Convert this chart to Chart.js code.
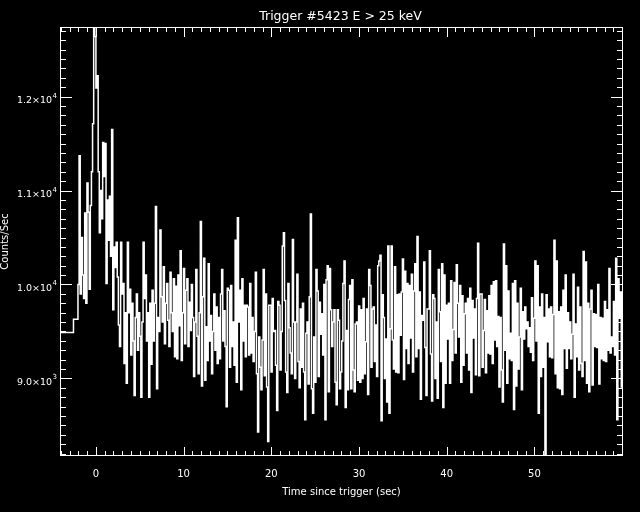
<!DOCTYPE html>
<html>
<head>
<meta charset="utf-8">
<title>Trigger #5423 E &gt; 25 keV</title>
<script src="https://cdn.jsdelivr.net/npm/chart.js@4.4.1/dist/chart.umd.min.js"></script>
<style>
  html, body { margin: 0; padding: 0; background: #000; }
  canvas { display: block; }
</style>
</head>
<body>
<canvas id="lightCurve" width="640" height="512"></canvas>
<script>
const titleText = 'Trigger #5423 E > 25 keV';
const xTitle = 'Time since trigger (sec)';
const yTitle = 'Counts/Sec';

const xMajorTicks = [0, 10, 20, 30, 40, 50];
const yMajorTicks = [9000, 10000, 11000, 12000];
const yTickMantissa = ['9.0', '1.0', '1.1', '1.2'];
const yTickExponent = ['3', '4', '4', '4'];

// coarse background bins before the fine data starts
const preBinStarts = [-4.096, -2.56];
const preCounts = [9490, 9630];

// 128 ms bins starting at -2.048 s
const fineStart = -2.048;
const fineWidth = 0.128;
const fineCounts = [
  10000, 11370, 9900, 10500, 10100, 9850, 10760, 9800, 11080, 10770,
  9950, 10840, 11200, 11710, 12800, 12640, 12090, 12220, 11200, 10550,
  11000, 10700, 11510, 11150, 11500, 10010, 10900, 10470, 10940, 10300,
  11650, 9730, 10400, 10180, 10450, 10080, 9570, 9340, 10450, 9900,
  10010, 9160, 9700, 8950, 10450, 9700, 9950, 9250, 9800, 9400,
  8820, 9650, 9900, 9300, 9700, 9450, 8800, 9600, 10450, 9850,
  10100, 9400, 9700, 8800, 9800, 9150, 9940, 9400, 9800, 10830,
  8890, 9650, 9500, 10580, 9870, 9600, 10190, 9370, 9800, 10010,
  9620, 9340, 10130, 9700, 9500, 10060, 9230, 9980, 9210, 10100,
  9560, 10360, 9190, 9700, 10170, 9370, 9940, 10060, 9340, 9810,
  9510, 10000, 9650, 9020, 9600, 10160, 9450, 9050, 9700, 10670,
  8920, 9870, 10280, 8980, 9550, 9190, 10220, 9400, 9670, 9050,
  9500, 9900, 9300, 9760, 9160, 9650, 9210, 9900, 10160, 9400,
  9720, 9340, 8700, 9960, 9940, 9120, 9990, 9340, 9600, 9140,
  10470, 8960, 10710, 9600, 9940, 8880, 10060, 9400, 9780, 9230,
  9780, 9760, 9250, 10010, 9270, 9650, 9180, 9500, 10130, 9050,
  8430, 9440, 9120, 8880, 9410, 10160, 9030, 9900, 8910, 8330,
  9780, 9780, 9070, 9850, 9500, 9510, 9140, 8660, 9820, 9780,
  9090, 9500, 10410, 10550, 9830, 9070, 8850, 10010, 9540, 9270,
  9050, 10480, 9600, 9000, 9600, 10110, 9180, 8900, 9740, 9120,
  9800, 9070, 8560, 9480, 9600, 8940, 9870, 10750, 8890, 8630,
  9440, 8960, 10160, 9930, 9020, 9810, 9470, 9690, 9250, 10000,
  8560, 10050, 10200, 8860, 10170, 9730, 9340, 9600, 9730, 8960,
  8720, 9730, 9620, 8890, 9070, 9400, 10010, 10250, 8690, 9510,
  8880, 9840, 9990, 8890, 10050, 9090, 8860, 9580, 9600, 8980,
  9770, 8960, 9730, 9000, 9850, 9050, 9390, 9740, 8830, 10160,
  9990, 9120, 9740, 9760, 9180, 9570, 9020, 10200, 10250, 10310,
  8550, 9890, 9650, 9000, 9420, 8750, 10410, 8630, 9530, 10410,
  9410, 9100, 10190, 9070, 9890, 9060, 9900, 9460, 9920, 10270,
  8990, 10140, 9320, 10010, 9160, 9990, 9430, 10110, 9070, 9930,
  10220, 9230, 10510, 9320, 9920, 8780, 9670, 9620, 10240, 9330,
  8820, 9740, 9740, 10360, 9260, 8760, 9890, 9850, 9000, 9600,
  8790, 10160, 9710, 9180, 10220, 8690, 10100, 8950, 9780, 9420,
  9800, 8950, 10040, 9190, 9520, 10020, 9270, 10210, 9800, 9440,
  9990, 8960, 9880, 9140, 9690, 9800, 9270, 9850, 9090, 9960,
  8850, 9830, 9430, 9740, 9040, 9850, 10440, 9030, 9900, 9900,
  9120, 9510, 9840, 9060, 9720, 9270, 9880, 9260, 9990, 9160,
  10030, 9410, 10040, 9340, 9660, 8910, 9650, 9090, 8750, 10430,
  9300, 10200, 8950, 9930, 9210, 9480, 9190, 10010, 8670, 10040,
  8920, 9800, 9100, 9440, 9960, 8880, 9710, 9420, 9760, 9530,
  9600, 9340, 9540, 9280, 9860, 9190, 9640, 10250, 9400, 10200,
  8630, 9760, 9020, 9900, 9120, 9650, 8100, 9890, 9390, 9740,
  9230, 9760, 9220, 9680, 10470, 9050, 10250, 8900, 9710, 8890,
  9760, 8830, 9940, 9320, 10100, 9110, 9700, 9320, 9600, 9210,
  9470, 10110, 8800, 9580, 9230, 9970, 9090, 9760, 9160, 9020,
  10350, 9190, 10240, 8950, 9800, 8860, 9740, 9940, 8930, 9690,
  9340, 9680, 9330, 10000, 8940, 9650, 9210, 9640, 9190, 9820,
  9180, 9730, 9300, 10170, 9270, 9440, 9340, 9820, 9250, 10280,
  8560, 10060, 9640, 9920, 8910
];

function buildPoints() {
  const pts = [];
  for (let i = 0; i < preCounts.length; i++) {
    pts.push({ x: preBinStarts[i], y: preCounts[i] });
  }
  for (let i = 0; i < fineCounts.length; i++) {
    pts.push({ x: fineStart + i * fineWidth, y: fineCounts[i] });
  }
  // close the last bin
  const n = fineCounts.length;
  pts.push({ x: fineStart + n * fineWidth, y: fineCounts[n - 1] });
  return pts;
}

// IDL style box: ticks pointing inwards on all four sides
const idlAxes = {
  id: 'idlAxes',
  beforeDraw(chart) {
    const ctx = chart.ctx;
    ctx.save();
    ctx.fillStyle = '#000';
    ctx.fillRect(0, 0, chart.width, chart.height);
    ctx.restore();
  },
  afterDatasetsDraw(chart) {
    const { ctx, chartArea: a } = chart;
    const xs = chart.scales.x, ys = chart.scales.y;
    const L = a.left, R = a.right - 1, T = a.top, B = a.bottom - 1;
    ctx.save();
    ctx.fillStyle = '#fff';

    ctx.fillRect(L, T, R - L + 1, 1);
    ctx.fillRect(L, B, R - L + 1, 1);
    ctx.fillRect(L, T, 1, B - T + 1);
    ctx.fillRect(R, T, 1, B - T + 1);

    for (let t = Math.ceil(xs.min); t <= xs.max; t++) {
      const px = Math.round(xs.getPixelForValue(t));
      const major = xMajorTicks.includes(t);
      ctx.fillRect(px, B - (major ? 8 : 4), 1, major ? 8 : 4);
      ctx.fillRect(px, T, 1, major ? 10 : 5);
    }
    for (let v = Math.ceil(ys.min / 100) * 100; v <= ys.max; v += 100) {
      const py = Math.round(ys.getPixelForValue(v));
      const len = yMajorTicks.includes(v) ? 12 : 6;
      ctx.fillRect(L, py, len, 1);
      ctx.fillRect(R - len + 1, py, len, 1);
    }

    // x tick labels
    ctx.font = '10px "DejaVu Sans"';
    ctx.textAlign = 'center';
    ctx.textBaseline = 'alphabetic';
    xMajorTicks.forEach(t => {
      ctx.fillText(String(t), xs.getPixelForValue(t), 477);
    });

    // y tick labels  m.m x 10^e
    ctx.textAlign = 'right';
    yMajorTicks.forEach((v, i) => {
      const py = ys.getPixelForValue(v);
      ctx.font = '7px "DejaVu Sans"';
      const ws = ctx.measureText(yTickExponent[i]).width;
      ctx.fillText(yTickExponent[i], 57, py + 1);
      ctx.font = '9.5px "DejaVu Sans"';
      ctx.fillText(yTickMantissa[i] + '\u00d710', 57 - ws - 0.5, py + 6.5);
    });

    // axis titles
    ctx.font = '10px "DejaVu Sans"';
    ctx.textAlign = 'center';
    ctx.fillText(xTitle, (a.left + a.right) / 2, 495);
    ctx.save();
    ctx.translate(8, (a.top + a.bottom) / 2);
    ctx.rotate(-Math.PI / 2);
    ctx.fillText(yTitle, 0, 0);
    ctx.restore();

    ctx.font = '12.5px "DejaVu Sans"';
    ctx.fillText(titleText, (a.left + a.right) / 2 - 1, 20);
    ctx.restore();
  }
};

new Chart(document.getElementById('lightCurve'), {
  type: 'line',
  data: {
    datasets: [{
      data: buildPoints(),
      borderColor: '#ffffff',
      borderWidth: 1.5,
      pointRadius: 0,
      stepped: true,
      fill: false
    }]
  },
  options: {
    responsive: false,
    animation: false,
    devicePixelRatio: 1,
    events: [],
    layout: { padding: { left: 60, top: 27, right: 17, bottom: 56 } },
    scales: {
      x: { type: 'linear', display: false, min: -4.096, max: 60.1 },
      y: { type: 'linear', display: false, min: 8175, max: 12740 }
    },
    plugins: {
      legend: { display: false },
      title: { display: false },
      tooltip: { enabled: false }
    }
  },
  plugins: [idlAxes]
});
</script>
</body>
</html>
